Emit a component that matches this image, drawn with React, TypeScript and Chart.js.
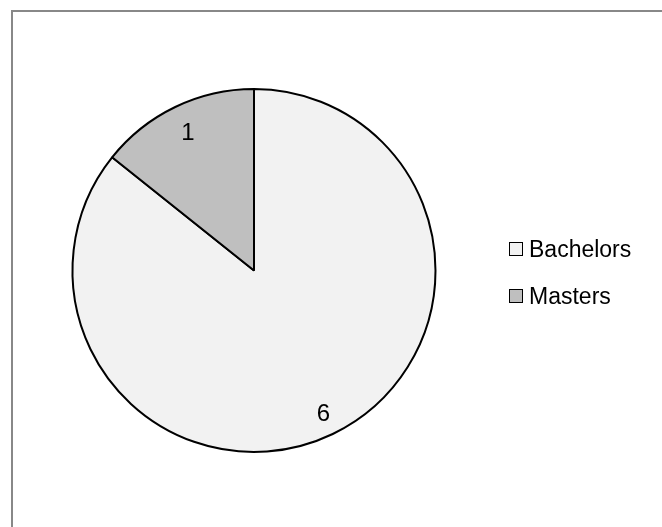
import React, { useEffect, useRef } from "react";
import { Chart, registerables } from "chart.js";

Chart.register(...registerables);

const categories = ["Bachelors", "Masters"];
const values = [6, 1];
const colors = ["#f2f2f2", "#bfbfbf"];
const labelRadius = [0.88, 0.84];

const valueLabels = {
  id: "valueLabels",
  afterDatasetsDraw(chart: any) {
    const ctx = chart.ctx;
    const meta = chart.getDatasetMeta(0);
    ctx.save();
    ctx.font = '24px "Liberation Sans", Arial, sans-serif';
    ctx.fillStyle = "#000";
    ctx.textAlign = "center";
    ctx.textBaseline = "middle";
    meta.data.forEach((arc: any, i: number) => {
      const { x, y, startAngle, endAngle, outerRadius } = arc.getProps(
        ["x", "y", "startAngle", "endAngle", "outerRadius"],
        true
      );
      const mid = (startAngle + endAngle) / 2;
      const r = outerRadius * labelRadius[i];
      ctx.fillText(String(values[i]), x + Math.cos(mid) * r, y + Math.sin(mid) * r);
    });
    ctx.restore();
  },
};

export default function App() {
  const ref = useRef<HTMLCanvasElement>(null);
  useEffect(() => {
    if (!ref.current) return;
    const chart = new Chart(ref.current, {
      type: "pie",
      data: {
        labels: categories,
        datasets: [
          {
            data: values,
            backgroundColor: colors,
            borderColor: "#000",
            borderWidth: 2,
          },
        ],
      },
      options: {
        animation: false,
        responsive: false,
        maintainAspectRatio: false,
        layout: { padding: { left: 71, right: 225, top: 88, bottom: 74 } },
        plugins: {
          legend: { display: false },
          tooltip: { enabled: false },
        },
      },
      plugins: [valueLabels],
    });
    return () => chart.destroy();
  }, []);

  const font = '"Liberation Sans", Arial, sans-serif';
  return (
    <div style={{ position: "fixed", left: 0, top: 0, width: 662, height: 527, background: "#fff", overflow: "hidden" }}>
      <div
        style={{
          position: "absolute",
          left: 11,
          top: 10,
          width: 700,
          height: 600,
          border: "2px solid #888888",
          boxSizing: "border-box",
        }}
      />
      <canvas ref={ref} width={662} height={527} style={{ position: "absolute", left: 0, top: 0 }} />
      {categories.map((c, i) => (
        <div
          key={c}
          style={{
            position: "absolute",
            left: 509,
            top: 235 + i * 47,
            height: 28,
            display: "flex",
            alignItems: "center",
            fontFamily: font,
            fontSize: 23,
            color: "#000",
            whiteSpace: "nowrap",
          }}
        >
          <span
            style={{
              display: "inline-block",
              width: 12,
              height: 12,
              background: colors[i],
              border: "1px solid #000",
              marginRight: 6,
            }}
          />
          {c}
        </div>
      ))}
    </div>
  );
}
